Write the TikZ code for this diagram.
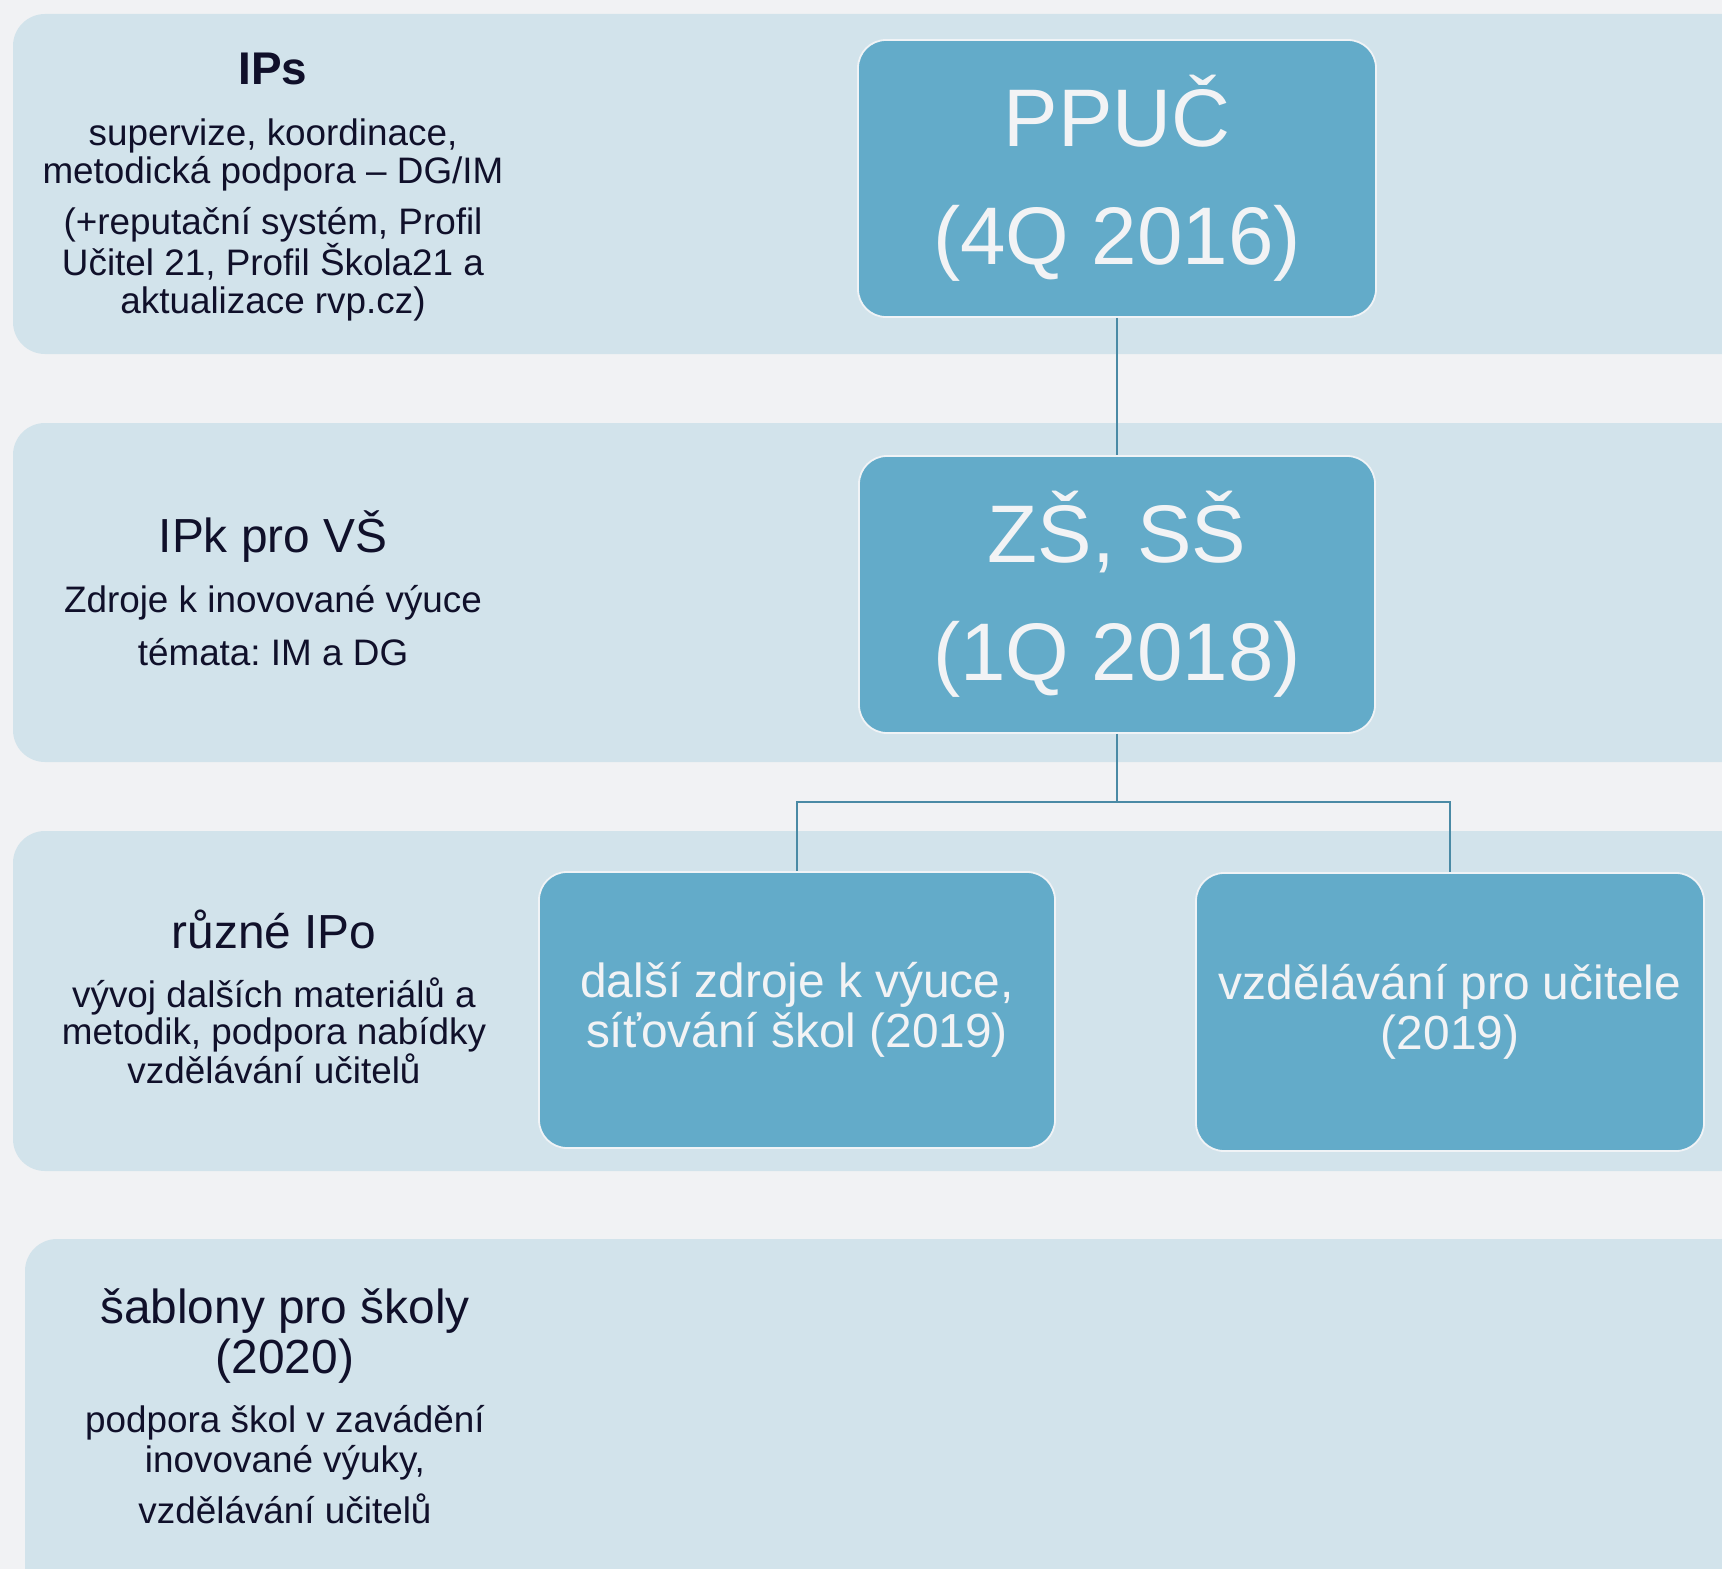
\documentclass[tikz,border=0pt]{standalone}
\usepackage{fontspec}
\setmainfont{Liberation Sans}
\frenchspacing
\definecolor{bgc}{HTML}{F1F2F4}
\definecolor{bandc}{HTML}{D2E3EB}
\definecolor{boxc}{HTML}{63ABC9}
\definecolor{boxline}{HTML}{F0F3F6}
\definecolor{darktext}{HTML}{10102A}
\definecolor{lighttext}{HTML}{F2F3F5}
\definecolor{linkc}{HTML}{4A8AA5}
\begin{document}
\begin{tikzpicture}[x=1bp,y=-1bp,
  band/.style={fill=bandc, rounded corners=32bp},
  bigbox/.style={rectangle, rounded corners=28bp, fill=boxc, draw=boxline, line width=1.8bp,
    text=lighttext, align=center, inner sep=0pt, font=\fontsize{82}{118}\selectfont},
  smallbox/.style={rectangle, rounded corners=28bp, fill=boxc, draw=boxline, line width=1.8bp,
    text=lighttext, align=center, inner sep=0pt, font=\fontsize{48}{50}\selectfont},
  titletxt/.style={text=darktext, align=center, inner sep=0pt, anchor=base, font=\fontsize{48}{50}\selectfont},
  bodytxt/.style={text=darktext, align=center, inner sep=0pt, anchor=base, font=\fontsize{37}{37.5}\selectfont},
  link/.style={draw=linkc, line width=2bp}
]
\useasboundingbox (0,0) rectangle (1722,1569);
\fill[bgc] (0,0) rectangle (1722,1569);
\begin{scope}
\clip (0,0) rectangle (1722,1569);
\fill[band] (13,14) rectangle (1790,354);
\fill[band] (13,423) rectangle (1790,762);
\fill[band] (13,831) rectangle (1790,1171);
\fill[band] (25,1239) rectangle (1790,1640);
\end{scope}

% boxes
\node[bigbox, minimum width=518bp, minimum height=277bp] (ppuc) at (1117,178.5) {PPUČ\\(4Q 2016)};
\node[bigbox, minimum width=516bp, minimum height=277bp] (zs) at (1117,594.5) {ZŠ, SŠ\\(1Q 2018)};
\node[smallbox, minimum width=516bp, minimum height=276bp] (dz) at (797,1010) {další zdroje k výuce,\\síťování škol (2019)};
\node[smallbox, minimum width=508bp, minimum height=278bp] (vu) at (1450,1012) {vzdělávání pro učitele\\(2019)};

% connectors
\coordinate (split) at (1117,802);
\draw[link] (ppuc.south) -- (zs.north);
\draw[link] (zs.south) -- (split) -| (dz.north);
\draw[link] (split) -| (vu.north);

% left column texts (anchor = baseline of last line)
\node[titletxt, font=\bfseries\fontsize{46}{50}\selectfont] (ips) at (273,85) {IPs};
\node[bodytxt, font=\fontsize{37}{38}\selectfont] (ipsa) at (273,183) {supervize, koordinace,\\metodická podpora – DG/IM};
\node[bodytxt] (ipsb) at (273,313) {(+reputační systém, Profil\\Učitel 21, Profil Škola21 a\\aktualizace rvp.cz)};

\node[titletxt] (ipk) at (273,552) {IPk pro VŠ};
\node[bodytxt] (ipka) at (273,612) {Zdroje k inovované výuce};
\node[bodytxt] (ipkb) at (273,665) {témata: IM a DG};

\node[titletxt] (ipo) at (274,948) {různé IPo};
\node[bodytxt] (ipoa) at (274,1083) {vývoj dalších materiálů a\\metodik, podpora nabídky\\vzdělávání učitelů};

\node[titletxt] (sab) at (285,1373) {šablony pro školy\\(2020)};
\node[bodytxt, font=\fontsize{37}{40}\selectfont] (saba) at (285,1472) {podpora škol v zavádění\\inovované výuky,};
\node[bodytxt] (sabb) at (285,1523) {vzdělávání učitelů};
\end{tikzpicture}
\end{document}
